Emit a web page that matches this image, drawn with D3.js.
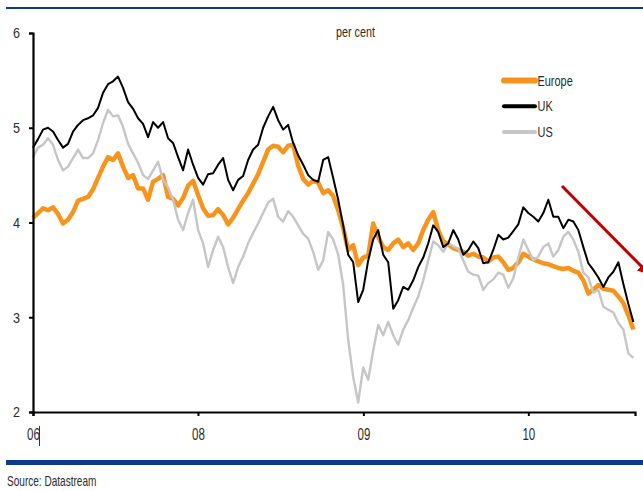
<!DOCTYPE html>
<html>
<head>
<meta charset="utf-8">
<script src="https://cdn.jsdelivr.net/npm/d3@7"></script>
<style>
  body { margin: 0; background: #fff; }
  svg { display: block; }
  text { font-family: "Liberation Sans", Arial, sans-serif; fill: #2b2b2b; }
  .axis path, .axis line { stroke: #000; }
</style>
</head>
<body>
<div class="Content"></div>
<script>
// series values, one reading roughly every 11 days from Jan 2007
var startDate = new Date(2007, 0, 1);
var stepDays = 11.07;

var europe = [4.05,4.10,4.15,4.13,4.16,4.09,3.99,4.03,4.11,4.23,4.25,4.27,4.35,4.47,4.59,4.69,4.66,4.73,4.59,4.47,
  4.50,4.36,4.36,4.24,4.43,4.46,4.50,4.27,4.25,4.18,4.26,4.39,4.44,4.29,4.15,4.07,4.08,4.14,4.08,3.98,
  4.05,4.14,4.23,4.31,4.41,4.51,4.64,4.77,4.81,4.80,4.74,4.81,4.82,4.60,4.46,4.40,4.44,4.42,4.31,4.34,
  4.28,4.13,3.94,3.71,3.76,3.55,3.63,3.65,3.99,3.85,3.74,3.71,3.78,3.82,3.74,3.78,3.71,3.78,3.92,4.03,
  4.11,3.92,3.80,3.77,3.73,3.71,3.69,3.65,3.67,3.64,3.63,3.59,3.63,3.64,3.58,3.50,3.52,3.58,3.67,3.64,
  3.61,3.59,3.57,3.56,3.54,3.52,3.51,3.52,3.49,3.47,3.39,3.25,3.29,3.34,3.30,3.29,3.28,3.22,3.15,3.02,2.87];

var uk = [4.79,4.88,4.98,5.00,4.96,4.87,4.79,4.83,4.96,5.03,5.08,5.10,5.13,5.21,5.37,5.46,5.49,5.54,5.42,5.27,
  5.20,5.10,5.04,4.90,5.06,5.00,5.06,4.89,4.84,4.69,4.55,4.77,4.61,4.47,4.40,4.51,4.52,4.61,4.68,4.45,
  4.34,4.45,4.49,4.66,4.77,4.82,5.00,5.12,5.22,5.08,4.98,5.03,4.84,4.71,4.61,4.50,4.45,4.43,4.66,4.69,
  4.47,4.24,3.97,3.66,3.58,3.16,3.29,3.60,3.82,3.92,3.66,3.58,3.09,3.18,3.32,3.29,3.39,3.53,3.63,3.78,
  3.97,3.90,3.74,3.78,3.92,3.82,3.66,3.71,3.80,3.73,3.57,3.58,3.71,3.87,3.82,3.84,3.91,3.98,4.16,4.10,
  4.06,4.01,4.10,4.24,4.06,4.06,3.94,4.03,4.01,3.92,3.74,3.57,3.50,3.42,3.32,3.42,3.48,3.58,3.35,3.14,2.95];

var us = [4.69,4.79,4.82,4.89,4.82,4.66,4.55,4.59,4.68,4.77,4.68,4.68,4.73,4.87,5.05,5.19,5.12,5.13,5.01,4.83,
  4.73,4.63,4.50,4.46,4.55,4.64,4.45,4.37,4.24,4.03,3.92,4.10,4.24,3.92,3.78,3.53,3.71,3.85,3.74,3.53,
  3.36,3.53,3.64,3.78,3.89,3.99,4.10,4.21,4.25,4.06,4.01,4.12,4.06,3.97,3.88,3.83,3.69,3.50,3.60,3.90,
  3.82,3.66,3.34,2.76,2.37,2.10,2.47,2.34,2.65,2.92,2.81,2.95,2.81,2.71,2.87,2.97,3.10,3.22,3.39,3.60,
  3.80,3.76,3.69,3.78,3.75,3.72,3.60,3.48,3.45,3.44,3.29,3.36,3.40,3.47,3.45,3.31,3.41,3.63,3.82,3.71,
  3.60,3.64,3.74,3.78,3.64,3.71,3.85,3.90,3.82,3.69,3.47,3.42,3.26,3.29,3.11,3.08,3.05,2.94,2.87,2.62,2.57];

var seriesNames = ["Europe", "UK", "US"];
var seriesColors = ["#f7941d", "#000000", "#c6c6c6"];
var tickYears = [2007, 2008, 2009, 2010];
var tickLabels = ["06", "08", "09", "10"];
var yTicks = [2, 3, 4, 5, 6];

var dates = europe.map(function(d, i) {
  return new Date(startDate.getTime() + i * stepDays * 864e5);
});

// squeeze text to look like a narrow font
function narrow(sel, factor) {
  sel.each(function() {
    var w = this.getComputedTextLength();
    d3.select(this).attr("textLength", w * factor).attr("lengthAdjust", "spacingAndGlyphs");
  });
}

//chart size and margins
var w_view = 643, h_view = 491;
var m = {top: 33, right: 8, bottom: 79, left: 33};

var svg = d3.select(".Content").append("svg")
  .attr("width", w_view)
  .attr("height", h_view);

// blue rules top and bottom
svg.append("line")
  .attr("x1", 6).attr("x2", w_view).attr("y1", 8).attr("y2", 8)
  .style("stroke", "#0d3a8c").style("stroke-width", 2);
svg.append("line")
  .attr("x1", 6).attr("x2", w_view).attr("y1", 462.5).attr("y2", 462.5)
  .style("stroke", "#0d3a8c").style("stroke-width", 5);

// scales
var x = d3.scaleTime()
  .domain([startDate, new Date(2010, 7, 25)])
  .range([m.left, w_view - m.right]);
var y = d3.scaleLinear()
  .domain([2, 6])
  .range([h_view - m.bottom, m.top]);

// lines
var line = d3.line()
  .x(function(d, i) { return x(dates[i]); })
  .y(function(d) { return y(d); });

var drawOrder = [
  {data: europe, color: seriesColors[0], w: 4.5},
  {data: us, color: seriesColors[2], w: 2.4},
  {data: uk, color: seriesColors[1], w: 2}
];
drawOrder.forEach(function(s) {
  svg.append("path")
    .datum(s.data)
    .attr("d", line)
    .style("fill", "none")
    .style("stroke", s.color)
    .style("stroke-width", s.w)
    .style("stroke-linejoin", "round");
});

// axes
var yAxis = svg.append("g")
  .attr("class", "axis")
  .attr("transform", "translate(" + m.left + ",0)")
  .call(d3.axisLeft(y).tickValues(yTicks).tickSize(4).tickPadding(9).tickFormat(d3.format("d")));

var xAxis = svg.append("g")
  .attr("class", "axis")
  .attr("transform", "translate(0," + (h_view - m.bottom) + ")")
  .call(d3.axisBottom(x)
    .tickValues(tickYears.map(function(t) { return new Date(t, 0, 1); }))
    .tickSize(4).tickPadding(13)
    .tickFormat(function(d, i) { return tickLabels[i]; }));

[yAxis, xAxis].forEach(function(a) {
  a.select(".domain").style("stroke-width", 2.2);
  a.selectAll(".tick line").style("stroke-width", 2);
  a.selectAll("text").style("fill", "#2b2b2b");
});
yAxis.selectAll("text").style("font-size", "15px").call(narrow, 0.84);
xAxis.selectAll("text").style("font-size", "16px").call(narrow, 0.72);

// small mark after the first x label
svg.append("line")
  .attr("x1", 39.5).attr("x2", 39.5).attr("y1", 426).attr("y2", 446)
  .style("stroke", "#333").style("stroke-width", 1);

// unit label
svg.append("text")
  .attr("x", 336).attr("y", 37)
  .style("font-size", "14px")
  .text("per cent")
  .call(narrow, 0.77);

// legend
var legendWidths = [6, 4, 4];
seriesNames.forEach(function(name, i) {
  var ly = 80.5 + i * 25.8;
  svg.append("line")
    .attr("x1", 504).attr("x2", 535).attr("y1", ly).attr("y2", ly)
    .style("stroke", seriesColors[i])
    .style("stroke-width", legendWidths[i])
    .style("stroke-linecap", "round");
  svg.append("text")
    .attr("x", 537.5).attr("y", ly + 5)
    .style("font-size", "14px")
    .text(name)
    .call(narrow, 0.78);
});

// red arrow
svg.append("defs").append("marker")
  .attr("id", "arrowHead")
  .attr("viewBox", "0 0 10 10")
  .attr("refX", 8).attr("refY", 5)
  .attr("markerWidth", 4).attr("markerHeight", 4)
  .attr("orient", "auto")
  .append("path")
  .attr("d", "M0,0L10,5L0,10z")
  .style("fill", "#c00000");
svg.append("line")
  .attr("x1", 562).attr("y1", 186).attr("x2", 648).attr("y2", 273)
  .style("stroke", "#c00000").style("stroke-width", 3)
  .attr("marker-end", "url(#arrowHead)");

// source
svg.append("text")
  .attr("x", 7).attr("y", 486)
  .style("font-size", "15px")
  .text("Source: Datastream")
  .call(narrow, 0.67);
</script>
</body>
</html>
